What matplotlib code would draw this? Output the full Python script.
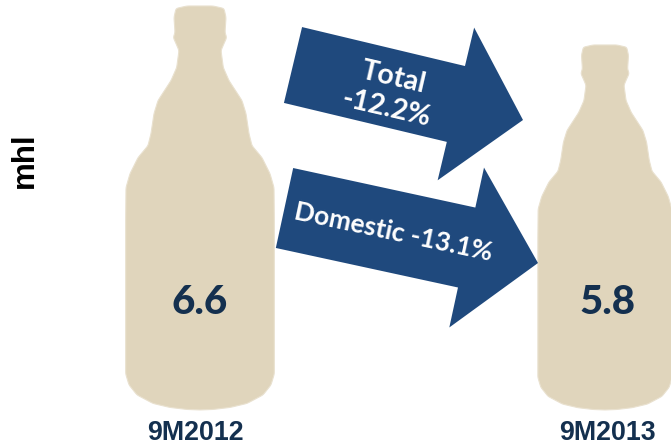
import numpy as np
import matplotlib
matplotlib.use("Agg")
import matplotlib.pyplot as plt
from matplotlib.patches import Polygon

periods = ["9M2012", "9M2013"]
volumes = [6.6, 5.8]
volume_unit = "mhl"
total_label = "Total\n-12.2%"
domestic_label = "Domestic -13.1%"

BOTTLE = "#E0D5BC"
ARROW = "#1F497D"
INK = "#14304F"

# Half of the bottle silhouette, from the base up: (half width, height above the base)
raw_profile = [
    (0, 0), (13, 0.5), (30, 2.5), (47, 6.5), (63, 15), (71, 25), (74.3, 36), (74.3, 190), (74, 222),
    (70, 236), (62, 252), (52, 264), (49, 276), (46, 296), (42, 309), (29, 329),
    (23.3, 342), (21, 359), (24, 366), (26.7, 372), (25, 377), (26, 392), (24, 401), (13, 403.5), (0, 403.5),
]


def smooth(points, passes=3, window=3):
    """Resample an outline at even spacing, then soften it with a moving average."""
    p = np.array(points, float)
    s = np.r_[0, np.cumsum(np.hypot(*np.diff(p, axis=0).T))]
    grid = np.arange(0, s[-1], 1.0)
    out = np.c_[np.interp(grid, s, p[:, 0]), np.interp(grid, s, p[:, 1])]
    kernel = np.ones(window) / window
    for _ in range(passes):
        pad = np.vstack([np.tile(out[0], (window, 1)), out, np.tile(out[-1], (window, 1))])
        out = np.c_[np.convolve(pad[:, 0], kernel, "same"), np.convolve(pad[:, 1], kernel, "same")][window:-window]
    return out


def block_arrow(tail, tip, body, head, head_len):
    """Outline of a flat block arrow running from tail to tip."""
    tail, tip = np.array(tail, float), np.array(tip, float)
    d = (tip - tail) / np.linalg.norm(tip - tail)
    n = np.array([-d[1], d[0]])
    base = tip - d * head_len
    return [tail - n * body / 2, base - n * body / 2, base - n * head / 2, tip,
            base + n * head / 2, base + n * body / 2, tail + n * body / 2]


fig = plt.figure(figsize=(6.71, 4.46), dpi=100, facecolor="white")

# Bottle axes: x holds the periods, y holds the volume on a truncated scale
ax = fig.add_axes([0, 0, 1, 1])
ax.set_xlim(-200 / 405, 471 / 405)
ax.set_ylim(-2.43, 6.723)
ax.axis("off")
BASE = -1.69
shape = smooth(raw_profile)
x_per_px = 1 / 405
for i, (label, v) in enumerate(zip(periods, volumes)):
    frac_h = (v - BASE) / (volumes[0] - BASE)
    hw = shape[:, 0] * frac_h * x_per_px
    yy = BASE + shape[:, 1] / 403.5 * (v - BASE)
    xs = np.r_[i - hw, (i + hw)[::-1]]
    ys = np.r_[yy, yy[::-1]]
    ax.fill(xs, ys, color=BOTTLE, lw=0.8, ec="#E9E1CF", zorder=1)

# Overlay in canvas pixels for arrows and text
ov = fig.add_axes([0, 0, 1, 1])
ov.set_xlim(0, 671)
ov.set_ylim(446, 0)
ov.axis("off")
ov.patch.set_alpha(0)

ov.add_patch(Polygon(block_arrow((293, 65), (523, 120), 78, 157, 69), closed=True, fc=ARROW, ec="none"))
ov.add_patch(Polygon(block_arrow((284.5, 208), (538, 263), 81.8, 163.6, 73), closed=True, fc=ARROW, ec="none"))

ov.text(390, 93, total_label, color="white", family="Lato", weight="bold", fontsize=20.5,
        rotation=-13, rotation_mode="anchor", ha="center", va="center", linespacing=1.26, multialignment="center")
ov.text(393, 232, domestic_label, color="white", family="Lato", weight="bold", fontsize=19,
        rotation=-12, rotation_mode="anchor", ha="center", va="center")

for cx, lx, ty, ly, v, label in zip((200, 607), (195, 607), (303, 303), (433, 433), volumes, periods):
    ov.text(cx, ty, f"{v:.1f}", color=INK, family="Lato", weight="black", fontsize=29, ha="center", va="center")
    ov.text(lx, ly, label, color=INK, family="Liberation Sans", weight="bold", fontsize=19.3, ha="center", va="center")

ov.text(25, 160, volume_unit, color="black", family="Liberation Sans", weight="bold", fontsize=22.5,
        rotation=90, ha="center", va="center")

fig.savefig("out.png", dpi=100, facecolor="white")
